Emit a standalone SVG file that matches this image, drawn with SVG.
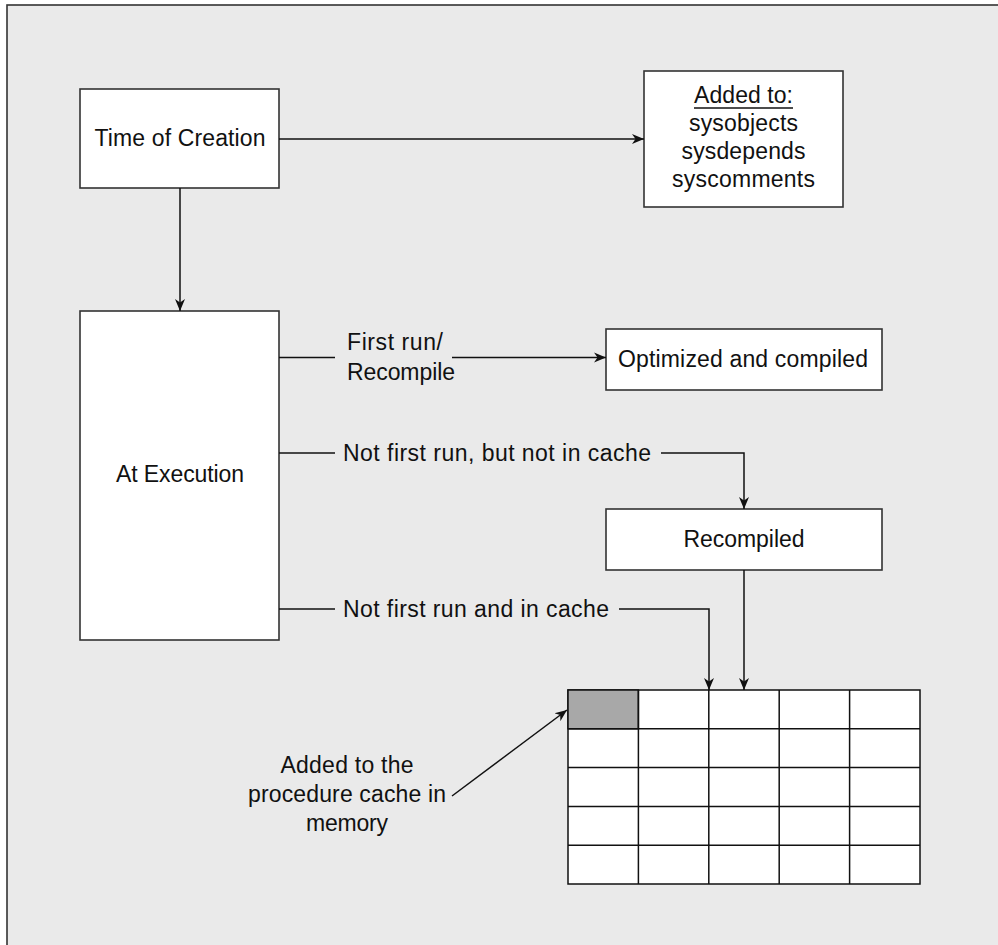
<svg xmlns="http://www.w3.org/2000/svg" width="998" height="945" viewBox="0 0 998 945">
<style>
.box{fill:#fff;stroke:#333;stroke-width:1.6}
.ln{fill:none;stroke:#111;stroke-width:1.5}
.t{font-family:"Liberation Sans",Arial,sans-serif;font-size:23px;fill:#111}
.m{text-anchor:middle}
.cell{fill:#fff;stroke:#111;stroke-width:1.5}
</style>
<defs>
<marker id="ah" markerUnits="userSpaceOnUse" markerWidth="13" markerHeight="11" refX="12" refY="5.5" orient="auto">
<path d="M0,0.5 L12,5.5 L0,10.5 L3.5,5.5 z" fill="#111"/>
</marker>
</defs>
<rect x="7" y="5" width="1000" height="1000" fill="#eaeaea" stroke="#333" stroke-width="1.6"/>

<g id="time-of-creation">
<rect class="box" x="80" y="89" width="199" height="99"/>
<text class="t m" x="180" y="146" textLength="171">Time of Creation</text>
</g>

<g id="added-to">
<rect class="box" x="644" y="71" width="199" height="136"/>
<text class="t m" x="743.5" y="103" textLength="99">Added to:</text>
<line x1="694" y1="108" x2="793" y2="108" stroke="#111" stroke-width="1.5"/>
<text class="t m" x="743.5" y="131" textLength="109">sysobjects</text>
<text class="t m" x="743.5" y="159" textLength="124">sysdepends</text>
<text class="t m" x="743.5" y="187" textLength="143">syscomments</text>
</g>

<g id="at-execution">
<rect class="box" x="80" y="311" width="199" height="329"/>
<text class="t m" x="180" y="482" textLength="128">At Execution</text>
</g>

<g id="optimized">
<rect class="box" x="606" y="329" width="276" height="61"/>
<text class="t m" x="743" y="367" textLength="250">Optimized and compiled</text>
</g>

<g id="recompiled">
<rect class="box" x="606" y="509" width="276" height="61"/>
<text class="t m" x="744" y="547" textLength="121">Recompiled</text>
</g>

<g id="cache-grid">
<rect class="cell" x="568" y="690" width="352" height="194"/>
<rect x="568" y="690" width="70.4" height="38.8" fill="#a8a8a8" stroke="#111" stroke-width="1.5"/>
<path class="ln" d="M638.4,690V884M708.8,690V884M779.2,690V884M849.6,690V884M568,728.8H920M568,767.6H920M568,806.4H920M568,845.2H920"/>
</g>

<g id="note">
<text class="t m" x="347" y="773" textLength="133">Added to the</text>
<text class="t m" x="347" y="802" textLength="198">procedure cache in</text>
<text class="t m" x="347" y="831" textLength="82">memory</text>
</g>

<g id="connectors">
<line class="ln" x1="279" y1="139" x2="644" y2="139" marker-end="url(#ah)"/>
<line class="ln" x1="180" y1="188" x2="180" y2="311" marker-end="url(#ah)"/>
<line class="ln" x1="279" y1="357.5" x2="335" y2="357.5"/>
<line class="ln" x1="452" y1="357.5" x2="606" y2="357.5" marker-end="url(#ah)"/>
<line class="ln" x1="279" y1="453" x2="335" y2="453"/>
<polyline class="ln" points="661,453 744,453 744,509" marker-end="url(#ah)"/>
<line class="ln" x1="744" y1="570" x2="744" y2="690" marker-end="url(#ah)"/>
<line class="ln" x1="279" y1="609" x2="335" y2="609"/>
<polyline class="ln" points="619,609 709,609 709,690" marker-end="url(#ah)"/>
<line class="ln" x1="452" y1="796" x2="567" y2="710" marker-end="url(#ah)"/>
</g>

<g id="labels">
<text class="t" x="347" y="350" textLength="96">First run/</text>
<text class="t" x="347" y="380" textLength="108">Recompile</text>
<text class="t" x="343" y="461" textLength="308">Not first run, but not in cache</text>
<text class="t" x="343" y="617" textLength="266">Not first run and in cache</text>
</g>
</svg>
